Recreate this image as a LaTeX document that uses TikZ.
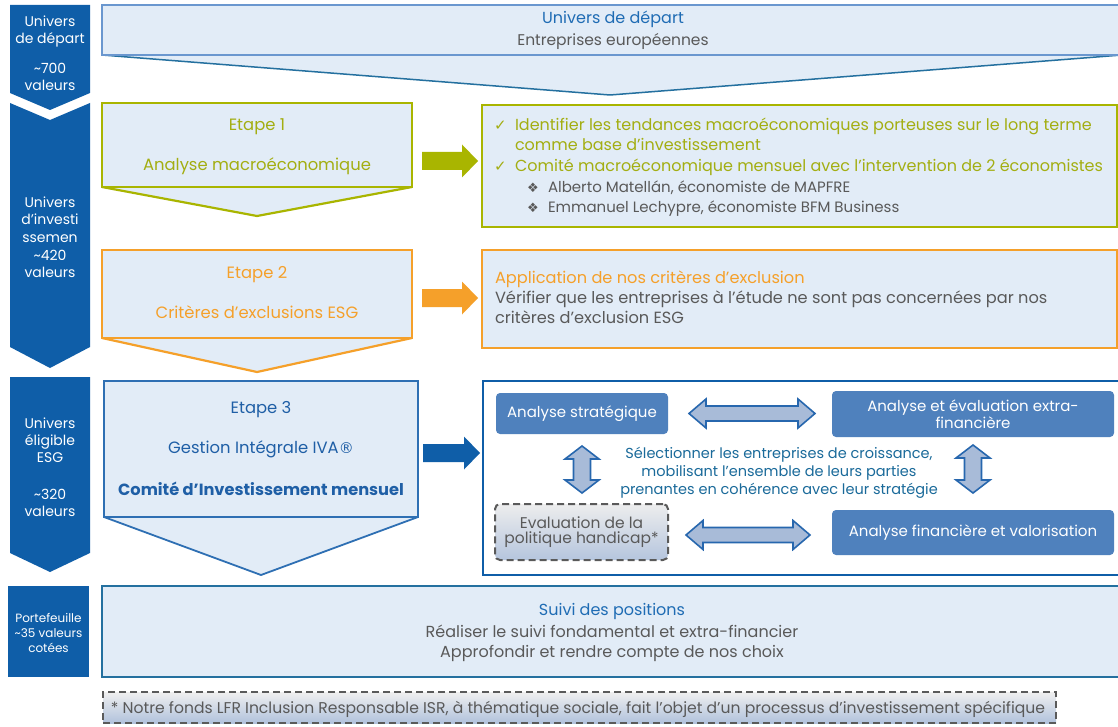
\documentclass[tikz,border=0pt]{standalone}
\usepackage{fontspec}
\setmainfont{Poppins}
\newfontfamily\dejavu{DejaVu Sans}
\usetikzlibrary{calc,backgrounds}
\definecolor{dblue}{HTML}{0F5EA8}
\definecolor{lfill}{HTML}{E2ECF7}
\definecolor{olive}{HTML}{A9B500}
\definecolor{olivetxt}{HTML}{A3AE12}
\definecolor{orng}{HTML}{F5A02A}
\definecolor{bborder}{HTML}{2E6FB3}
\definecolor{ibox}{HTML}{4F81BD}
\definecolor{afill}{HTML}{A8BBD8}
\definecolor{aline}{HTML}{2767AE}
\definecolor{gtext}{HTML}{595959}
\definecolor{btext}{HTML}{1F6CB4}
\definecolor{e3txt}{HTML}{1F5FA6}
\definecolor{ctxt}{HTML}{1A6A9A}
\definecolor{tboxb}{HTML}{6A97CF}
\definecolor{tchev}{HTML}{24709F}
\definecolor{dashg}{HTML}{5A5A5A}
\newcommand{\myfs}[1]{\fontsize{#1}{#1}\selectfont}
\newcommand{\hdbl}[2]{%
  \draw[dblar] let \p1=(#1), \p2=(#2) in
   (\x1,\y1) -- (\x1+17,\y1+14.5) -- (\x1+17,\y1+7.5) -- (\x2-17,\y1+7.5)
   -- (\x2-17,\y1+14.5) -- (\x2,\y1) -- (\x2-17,\y1-14.5) -- (\x2-17,\y1-7.5)
   -- (\x1+17,\y1-7.5) -- (\x1+17,\y1-14.5) -- cycle;}
\newcommand{\vdbl}[2]{%
  \draw[dblar] let \p1=(#1), \p2=(#2) in
   (\x1,\y1) -- (\x1+17,\y1-13) -- (\x1+8.5,\y1-13) -- (\x1+8.5,\y2+13)
   -- (\x1+17,\y2+13) -- (\x1,\y2) -- (\x1-17,\y2+13) -- (\x1-8.5,\y2+13)
   -- (\x1-8.5,\y1-13) -- (\x1-17,\y1-13) -- cycle;}
\newcommand{\sarr}[3]{%
  \fill[#3] let \p1=(#1), \p2=(#2) in
   (\x1,\y1+9) -- (\x2-16,\y1+9) -- (\x2-16,\y1+16.5) -- (\x2,\y1)
   -- (\x2-16,\y1-16.5) -- (\x2-16,\y1-9) -- (\x1,\y1-9) -- cycle;}
\tikzset{
  lc/.style={text=white, font=\myfs{14}, anchor=mid, yshift=-3pt},
  lcs/.style={text=white, font=\myfs{12}, anchor=mid, yshift=-2pt},
  etbox/.style={fill=lfill, line width=2.2pt, minimum width=310pt},
  rbox/.style={fill=lfill, line width=2.2pt},
  ibx/.style={fill=ibox, rounded corners=4pt, text=white, font=\myfs{15}, align=center},
  dbox/.style={draw=dashg, line width=2pt, dash pattern=on 7pt off 4pt},
  dblar/.style={fill=afill, draw=aline, line width=1.6pt, line join=miter},
  txt/.style={anchor=mid, font=\myfs{16}, yshift=-3pt},
  txtw/.style={anchor=mid west, font=\myfs{16}, yshift=-3pt},
}
\begin{document}
\begin{tikzpicture}[x=1pt,y=-1pt, every node/.style={inner sep=0pt, outer sep=0pt}]
\useasboundingbox (0,0) rectangle (1118,727);
\begin{scope}[on background layer]
\fill[white] (0,0) rectangle (1118,727);
\end{scope}
% ---------- left column ----------
\fill[dblue] (10,5) -- (90,5) -- (90,93) -- (50,110) -- (10,93) -- cycle;
\fill[dblue] (10,103) -- (50,120) -- (90,103) -- (90,347) -- (50,368) -- (10,347) -- cycle;
\fill[dblue] (10,377) -- (90,377) -- (90,553) -- (50,572) -- (10,553) -- cycle;
\node[fill=dblue, minimum width=81pt, minimum height=91pt] (pf) at (48.5,631.5) {};
\node[lc] (l1a) at (50,21) {Univers};
\node[lc] (l1b) at (50,38) {de départ};
\node[lc] (l1c) at (50,68) {\char"007E 700};
\node[lc] (l1d) at (50,85) {valeurs};
\node[lc] (l2a) at (50,202) {Univers};
\node[lc] (l2b) at (50,219) {d'investi};
\node[lc] (l2c) at (50,237) {ssemen};
\node[lc] (l2d) at (50,255) {\char"007E 420};
\node[lc] (l2e) at (50,272) {valeurs};
\node[lc] (l3a) at (50,423) {Univers};
\node[lc] (l3b) at (50,440) {éligible};
\node[lc] (l3c) at (50,457) {ESG};
\node[lc] (l3d) at (50,494) {\char"007E 320};
\node[lc] (l3e) at (50,511) {valeurs};
\node[lcs] (l4a) at (48.5,618) {Portefeuille};
\node[lcs] (l4b) at (48.5,633) {\char"007E 35 valeurs};
\node[lcs] (l4c) at (48.5,648) {cotées};
% ---------- top box ----------
\node[fill=lfill, draw=tboxb, line width=1.3pt, minimum width=1020pt, minimum height=50pt] (top) at (612,30) {};
\begin{scope}[on background layer]
\filldraw[fill=lfill, draw=tchev, line width=1.5pt] (top.south west) -- ($(top.south)+(-2,40)$) -- (top.south east);
\end{scope}
\node[txt, text=btext] (t1) at (613,18) {Univers de départ};
\node[txt, text=gtext, font=\myfs{15.5}] (t2) at (613,40) {Entreprises européennes};
% ---------- etape 1 ----------
\node[etbox, draw=olive, minimum height=84pt] (e1) at (257,145) {};
\begin{scope}[on background layer]
\filldraw[fill=lfill, draw=olive, line width=2.2pt, line join=miter] (e1.south west) -- ($(e1.south)+(0,29)$) -- (e1.south east);
\end{scope}
\node[txt, text=olivetxt, font=\myfs{16.4}] (e1a) at (257,125) {Etape 1};
\node[txt, text=olivetxt, font=\myfs{16.4}] (e1b) at (257,165) {Analyse macroéconomique};
\node[rbox, draw=olive, minimum width=635pt, minimum height=122pt] (r1) at (799.5,166) {};
\sarr{$(e1.east)+(10,16)$}{$(r1.west)+(-4,-5)$}{olive}
\node[txtw, text=olivetxt, font=\dejavu\myfs{15}] (c1) at (494,125) {✓};
\node[txtw, text=olivetxt] (r1a) at (515,125) {Identifier les tendances macroéconomiques porteuses sur le long terme};
\node[txtw, text=olivetxt] (r1b) at (515,145) {comme base d’investissement};
\node[txtw, text=olivetxt, font=\dejavu\myfs{15}] (c2) at (494,166) {✓};
\node[txtw, text=olivetxt] (r1c) at (515,166) {Comité macroéconomique mensuel avec l’intervention de 2 économistes};
\node[txtw, text=gtext, font=\dejavu\myfs{13}] (d1) at (527,187) {❖};
\node[txtw, text=gtext, font=\myfs{15}] (r1d) at (548,187) {Alberto Matellán, économiste de MAPFRE};
\node[txtw, text=gtext, font=\dejavu\myfs{13}] (d2) at (527,207) {❖};
\node[txtw, text=gtext, font=\myfs{15}] (r1e) at (548,207) {Emmanuel Lechypre, économiste BFM Business};
% ---------- etape 2 ----------
\node[etbox, draw=orng, minimum height=88pt] (e2) at (257,294) {};
\begin{scope}[on background layer]
\filldraw[fill=lfill, draw=orng, line width=2.2pt, line join=miter] (e2.south west) -- ($(e2.south)+(0,34)$) -- (e2.south east);
\end{scope}
\node[txt, text=orng, font=\myfs{16.4}] (e2a) at (257,273) {Etape 2};
\node[txt, text=orng, font=\myfs{16.4}] (e2b) at (257,313) {Critères d’exclusions ESG};
\node[rbox, draw=orng, minimum width=635pt, minimum height=98pt] (r2) at (799.5,299) {};
\sarr{$(e2.east)+(10,4)$}{$(r2.west)+(-4,-1)$}{orng}
\node[txtw, text=orng, font=\myfs{16.2}] (r2a) at (495,278) {Application de nos critères d’exclusion};
\node[txtw, text=gtext, font=\myfs{16.2}] (r2b) at (495,298) {Vérifier que les entreprises à l’étude ne sont pas concernées par nos};
\node[txtw, text=gtext, font=\myfs{16.2}] (r2c) at (495,318) {critères d’exclusion ESG};
% ---------- etape 3 ----------
\node[etbox, draw=bborder, line width=1.8pt, minimum width=314pt, minimum height=136pt] (e3) at (261,449) {};
\begin{scope}[on background layer]
\filldraw[fill=lfill, draw=bborder, line width=1.8pt, line join=miter] (e3.south west) -- ($(e3.south)+(0,58)$) -- (e3.south east);
\end{scope}
\node[txt, text=e3txt, font=\myfs{16.4}] (e3a) at (261,408) {Etape 3};
\node[txt, text=e3txt, font=\myfs{16.4}] (e3b) at (261,448) {Gestion Intégrale IVA{\dejavu\myfs{15}®}};
\node[txt, text=e3txt, font=\bfseries\myfs{16.2}] (e3c) at (261,490) {Comité d’Investissement mensuel};
\node[fill=white, draw=dblue, line width=2pt, minimum width=645pt, minimum height=194pt] (r3) at (805.5,478) {};
\sarr{$(e3.east)+(5,4)$}{$(r3.west)+(-3,-25)$}{dblue}
\node[ibx, minimum width=172pt, minimum height=41pt] (bstrat) at (582,413.5) {Analyse stratégique};
\node[ibx, minimum width=282pt, minimum height=46pt] (bextra) at (973,414) {Analyse et évaluation extra-\\financière};
\node[ibx, minimum width=282pt, minimum height=45pt] (bfin) at (973,532.5) {Analyse financière et valorisation};
\node[dbox, rounded corners=5pt, top color=gray!14, bottom color=afill!85, minimum width=173pt, minimum height=56pt, text=gtext, font=\myfs{15.5}, align=center] (bhand) at (581.5,532) {Evaluation de la\\politique handicap*};
\hdbl{$(bstrat.east)+(21,0)$}{$(bextra.west)+(-17,0)$}
\hdbl{$(bhand.east)+(18,3)$}{$(bfin.west)+(-22,3)$}
\vdbl{$(bstrat.south)+(0,12)$}{$(bhand.north)+(0,-11)$}
\vdbl{$(bextra.south)+(0,8)$}{$(bfin.north)+(0,-17)$}
\node[txt, text=ctxt, font=\myfs{14.5}] (m1) at (779,453) {Sélectionner les entreprises de croissance,};
\node[txt, text=ctxt, font=\myfs{14.5}] (m2) at (779,471) {mobilisant l’ensemble de leurs parties};
\node[txt, text=ctxt, font=\myfs{14.5}] (m3) at (779,489) {prenantes en cohérence avec leur stratégie};
% ---------- suivi ----------
\node[fill=lfill, draw=tchev, line width=1.5pt, minimum width=1024pt, minimum height=91pt] (sv) at (614,631.5) {};
\node[txt, text=btext] (s1) at (612,610) {Suivi des positions};
\node[txt, text=gtext] (s2) at (612,632) {Réaliser le suivi fondamental et extra-financier};
\node[txt, text=gtext] (s3) at (612,652) {Approfondir et rendre compte de nos choix};
% ---------- footnote ----------
\node[dbox, top color=gray!12, bottom color=afill!90, minimum width=953pt, minimum height=31pt] (fn) at (579.5,707.5) {};
\node[txt, text=gtext, font=\myfs{15.6}] (fnt) at (578,708) {* Notre fonds LFR Inclusion Responsable ISR, à thématique sociale, fait l’objet d’un processus d’investissement spécifique};
\end{tikzpicture}
\end{document}
